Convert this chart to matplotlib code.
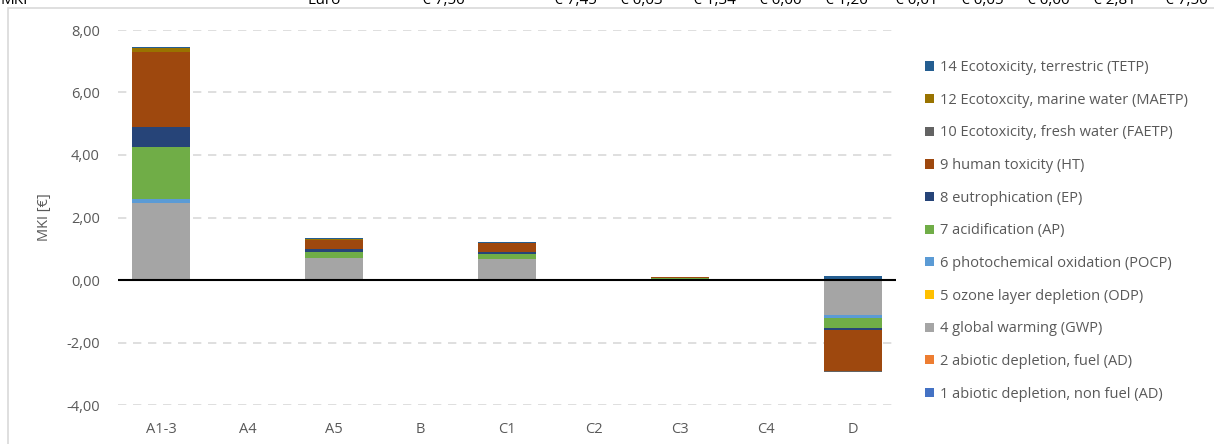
import matplotlib.pyplot as plt
import numpy as np

plt.rcParams['font.family'] = ['Open Sans', 'DejaVu Sans']

# modules on the x axis
modules = ["A1-3", "A4", "A5", "B", "C1", "C2", "C3", "C4", "D"]

# MKI contribution per impact category [euro]
ad_nonfuel = [0.00, 0.00, 0.00, 0.00, 0.00, 0.00, 0.00, 0.00, 0.00]
ad_fuel    = [0.04, 0.00, 0.00, 0.00, 0.00, 0.00, 0.00, 0.00, 0.00]
gwp        = [2.43, 0.005, 0.70, 0.00, 0.66, 0.01, 0.02, 0.00, -1.12]
odp        = [0.00, 0.00, 0.00, 0.00, 0.00, 0.00, 0.00, 0.00, 0.00]
pocp       = [0.13, 0.00, 0.02, 0.00, 0.01, 0.00, 0.00, 0.00, -0.09]
ap         = [1.66, 0.00, 0.19, 0.00, 0.15, 0.00, 0.03, 0.00, -0.34]
ep         = [0.64, 0.005, 0.09, 0.00, 0.07, 0.00, 0.01, 0.00, -0.06]
ht         = [2.40, 0.00, 0.28, 0.00, 0.28, 0.00, 0.04, 0.00, -1.30]
faetp      = [0.01, 0.00, 0.01, 0.00, 0.00, 0.00, 0.00, 0.00, -0.02]
maetp      = [0.13, 0.00, 0.02, 0.00, 0.02, 0.00, 0.00, 0.00, 0.00]
tetp       = [0.03, 0.02, 0.03, 0.00, 0.02, 0.01, 0.00, 0.00, 0.12]

series_names = [
    "1 abiotic depletion, non fuel (AD)",
    "2 abiotic depletion, fuel (AD)",
    "4 global warming (GWP)",
    "5 ozone layer depletion (ODP)",
    "6 photochemical oxidation (POCP)",
    "7 acidification (AP)",
    "8 eutrophication (EP)",
    "9 human toxicity (HT)",
    "10 Ecotoxicity, fresh water (FAETP)",
    "12 Ecotoxcity, marine water (MAETP)",
    "14 Ecotoxicity, terrestric (TETP)",
]
series_values = [ad_nonfuel, ad_fuel, gwp, odp, pocp, ap, ep, ht, faetp, maetp, tetp]
series_colors = ["#4472C4", "#ED7D31", "#A5A5A5", "#FFC000", "#5B9BD5", "#70AD47",
                 "#264478", "#9E480E", "#636363", "#997300", "#255E91"]

# clipped spreadsheet row above the chart
table_row = ["MKI", "Euro", "€ 7,50", "€ 7,45", "€ 0,03", "€ 1,34", "€ 0,00", "€ 1,20",
             "€ 0,01", "€ 0,05", "€ 0,00", "€ 2,81", "€ 7,50"]
table_x = [0, 341, 465, 597, 663, 736, 802, 868, 938, 1004, 1070, 1136, 1208]

fig = plt.figure(figsize=(12.14, 4.44), dpi=100)
ax = fig.add_axes([118 / 1214, 39 / 444, 778 / 1214, 375 / 444])

# chart frame
fig.patches.append(plt.Rectangle((8 / 1214, -0.1), 1.2, (444 - 8) / 444 + 0.1,
                                 transform=fig.transFigure, fill=False,
                                 edgecolor="#D9D9D9", lw=1.2))

x = np.arange(len(modules))
pos_bottom = np.zeros(len(modules))
neg_bottom = np.zeros(len(modules))
handles = []
for name, vals, col in zip(series_names, series_values, series_colors):
    vals = np.array(vals, dtype=float)
    pos = np.where(vals > 0, vals, 0)
    neg = np.where(vals < 0, vals, 0)
    h = ax.bar(x, pos, 0.67, bottom=pos_bottom, color=col, label=name, zorder=3)
    ax.bar(x, neg, 0.67, bottom=neg_bottom, color=col, zorder=3)
    pos_bottom += pos
    neg_bottom += neg
    handles.append(h)

ax.set_xlim(-0.5, len(modules) - 0.5)
ax.set_ylim(-4, 8)
ax.set_yticks(np.arange(-4, 9, 2))
ax.yaxis.set_major_formatter(plt.FuncFormatter(lambda v, p: f"{v:.2f}".replace(".", ",")))
ax.set_xticks(x)
ax.set_xticklabels(modules)
ax.tick_params(length=0, colors="#595959", labelsize=10.5)
ax.tick_params(axis="y", pad=13)
ax.tick_params(axis="x", pad=12)
ax.grid(axis="y", color="#D9D9D9", linestyle=(0, (5, 4)), lw=1.2, zorder=0)
ax.axhline(0, color="black", lw=1.5, zorder=4)
for s in ax.spines.values():
    s.set_visible(False)
ax.set_ylabel("MKI [€]", color="#595959", fontsize=10.5, labelpad=10)

leg = fig.legend(handles[::-1], series_names[::-1], loc="upper left",
                 bbox_to_anchor=(912 / 1214, 1 - 47 / 444), frameon=False,
                 fontsize=10.5, handlelength=0.6, handleheight=0.6,
                 handletextpad=0.45, labelspacing=1.21)
for t in leg.get_texts():
    t.set_color("#595959")

for txt, xp in zip(table_row, table_x):
    fig.text(xp / 1214, 1 - 4 / 444, txt, ha="right" if xp > 0 else "left",
             va="baseline", fontsize=11, color="black")

fig.savefig("out.png", dpi=100)
